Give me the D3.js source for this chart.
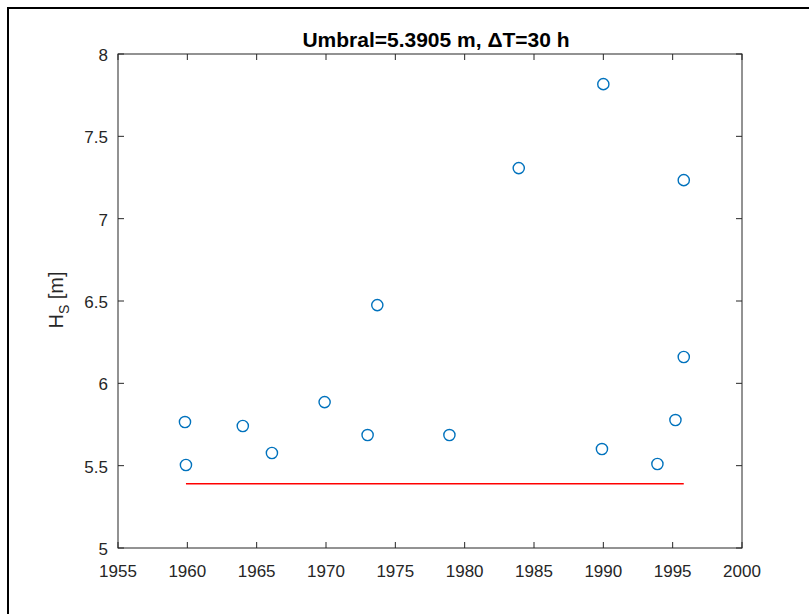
<!DOCTYPE html>
<html><head><meta charset="utf-8">
<script src="https://cdn.jsdelivr.net/npm/d3@7"></script>
<style>html,body{margin:0;padding:0;background:#fff;overflow:hidden}</style>
</head><body>
<svg id="c" width="809" height="614"></svg>
<script>
const years = [1959.83, 1959.9, 1964.0, 1966.1, 1969.9, 1973.0, 1973.7, 1978.9, 1983.9, 1989.9, 1990.0, 1993.9, 1995.2, 1995.8, 1995.8];
const hs    = [5.765, 5.504, 5.741, 5.577, 5.886, 5.686, 6.475, 5.686, 7.307, 5.601, 7.817, 5.51, 5.777, 6.16, 7.234];
const threshold = 5.3905;
const thresholdRange = [1959.9, 1995.8];
const xTicks = [1955,1960,1965,1970,1975,1980,1985,1990,1995,2000];
const yTicks = [5,5.5,6,6.5,7,7.5,8];

const svg = d3.select("#c");
const L=118, R=742, T=54, B=548;
const x = d3.scaleLinear().domain([1955,2000]).range([L,R]);
const y = d3.scaleLinear().domain([5,8]).range([B,T]);
const font = "Arial, 'Liberation Sans', Helvetica, sans-serif";
const tc = "#262626";

// figure frame
svg.append("rect").attr("x",8).attr("y",8).attr("width",900).attr("height",700)
  .attr("fill","none").attr("stroke","#000").attr("stroke-width",2);

// axes box
svg.append("rect").attr("x",L).attr("y",T).attr("width",R-L).attr("height",B-T)
  .attr("fill","#fff").attr("stroke",tc).attr("stroke-width",1);

const tl = 6;
const gx = svg.append("g");
xTicks.forEach(t=>{
  gx.append("line").attr("x1",x(t)).attr("x2",x(t)).attr("y1",B).attr("y2",B-tl).attr("stroke",tc);
  gx.append("line").attr("x1",x(t)).attr("x2",x(t)).attr("y1",T).attr("y2",T+tl).attr("stroke",tc);
  gx.append("text").attr("x",x(t)).attr("y",B+29).attr("text-anchor","middle")
    .attr("font-family",font).attr("font-size",17).attr("fill",tc).text(t);
});
yTicks.forEach(t=>{
  gx.append("line").attr("x1",L).attr("x2",L+tl).attr("y1",y(t)).attr("y2",y(t)).attr("stroke",tc);
  gx.append("line").attr("x1",R).attr("x2",R-tl).attr("y1",y(t)).attr("y2",y(t)).attr("stroke",tc);
  gx.append("text").attr("x",L-10).attr("y",y(t)+7).attr("text-anchor","end")
    .attr("font-family",font).attr("font-size",17).attr("fill",tc).text(t);
});

// threshold line
svg.append("line").attr("x1",x(thresholdRange[0])).attr("x2",x(thresholdRange[1]))
  .attr("y1",y(threshold)).attr("y2",y(threshold)).attr("stroke","#ff0000").attr("stroke-width",1.6);

// points
svg.append("g").selectAll("circle").data(years.map((d,i)=>[d,hs[i]])).join("circle")
  .attr("cx",d=>x(d[0])).attr("cy",d=>y(d[1])).attr("r",5.6)
  .attr("fill","none").attr("stroke","#0072BD").attr("stroke-width",1.4);

// title
svg.append("text").attr("x",436).attr("y",47).attr("text-anchor","middle")
  .attr("font-family",font).attr("font-size",21).attr("font-weight","bold").attr("fill","#000")
  .text("Umbral=5.3905 m, \u0394T=30 h");

// y label
const yl = svg.append("text").attr("transform","translate(63,300) rotate(-90)")
  .attr("text-anchor","middle").attr("font-family",font).attr("font-size",20).attr("fill",tc);
yl.append("tspan").text("H");
yl.append("tspan").attr("font-size",14).attr("dy",6).text("S");
yl.append("tspan").attr("dy",-6).text(" [m]");
</script>
</body></html>
